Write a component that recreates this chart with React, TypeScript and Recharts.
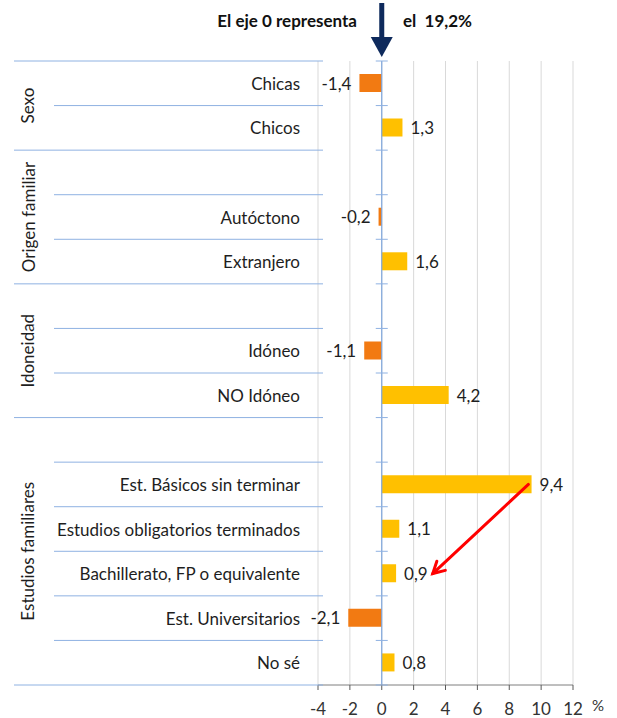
import React from 'react';
import { BarChart, Bar, XAxis, YAxis, CartesianGrid, Cell, LabelList, ReferenceLine } from 'recharts';

const categories = [
  'Chicas',
  'Chicos',
  ' ',
  'Autóctono',
  'Extranjero',
  '  ',
  'Idóneo',
  'NO Idóneo',
  '   ',
  'Est. Básicos sin terminar',
  'Estudios obligatorios terminados',
  'Bachillerato, FP o equivalente',
  'Est. Universitarios',
  'No sé',
];
const values: (number | null)[] = [-1.4, 1.3, null, -0.2, 1.6, null, -1.1, 4.2, null, 9.4, 1.1, 0.9, -2.1, 0.8];
const xTicks = [-4, -2, 0, 2, 4, 6, 8, 10, 12];
const groupNames = ['Sexo', 'Origen familiar', 'Idoneidad', 'Estudios familiares'];
const groupStarts = [0, 2, 5, 8];
const groupCounts = [2, 3, 3, 6];

const data = categories.map((name, i) => ({ name, value: values[i] }));

const W = 617;
const H = 718;
const M_TOP = 61;
const M_RIGHT = 44;
const Y_AXIS_W = 318;
const X_AXIS_H = 33;
const PLOT_LEFT = Y_AXIS_W;
const PLOT_RIGHT = W - M_RIGHT;
const PLOT_TOP = M_TOP;
const PLOT_BOTTOM = H - X_AXIS_H;
const BAND = (PLOT_BOTTOM - PLOT_TOP) / categories.length;
const X_MIN = xTicks[0];
const X_MAX = xTicks[xTicks.length - 1];
const xZero = PLOT_LEFT + ((0 - X_MIN) / (X_MAX - X_MIN)) * (PLOT_RIGHT - PLOT_LEFT);

const BLUE = '#8FB2E2';
const FONT = 'Lato, "Open Sans", sans-serif';
const TEXT = '#1e1e1e';
const NEG = '#F27A12';
const POS = '#FFC000';
const FS = 17;

const groupEnds = new Set(groupStarts.map((s, i) => s + groupCounts[i] - 1));

const fmt = (v: number) => v.toFixed(1).replace('.', ',');

const CatTick = (props: any) => {
  const { y, payload, index } = props;
  const i = payload && payload.index != null ? payload.index : index;
  const isEnd = groupEnds.has(i);
  const yb = y + BAND / 2;
  const yt = y - BAND / 2;
  return (
    <g>
      {i === 0 && <line x1={14} x2={PLOT_LEFT + 5} y1={yt} y2={yt} stroke={BLUE} strokeWidth={1} />}
      {i === 0 && <line x1={xZero - 6} x2={xZero + 6} y1={yt} y2={yt} stroke={BLUE} strokeWidth={1} />}
      <line x1={isEnd ? 14 : 54} x2={PLOT_LEFT + 5} y1={yb} y2={yb} stroke={BLUE} strokeWidth={1} />
      <line x1={xZero - 6} x2={xZero + 6} y1={yb} y2={yb} stroke={BLUE} strokeWidth={1} />
      <text
        x={PLOT_LEFT - 18}
        y={y}
        textAnchor="end"
        dominantBaseline="central"
        fontFamily={FONT}
        fontSize={FS}
        fill={TEXT}
      >
        {payload.value}
      </text>
    </g>
  );
};

const ValueLabel = (props: any) => {
  const vb = props.viewBox || {};
  const x = props.x != null ? Number(props.x) : vb.x;
  const y = props.y != null ? Number(props.y) : vb.y;
  const width = props.width != null ? Number(props.width) : vb.width;
  const height = props.height != null ? Number(props.height) : vb.height;
  const value = props.value;
  if (value == null || isNaN(Number(value))) return null;
  const v = Number(value);
  const left = Math.min(x, x + width);
  const right = Math.max(x, x + width);
  const cy = y + height / 2;
  return (
    <text
      x={v >= 0 ? right + 8 : left - 8}
      y={cy}
      textAnchor={v >= 0 ? 'start' : 'end'}
      dominantBaseline="central"
      fontFamily={FONT}
      fontSize={FS}
      fill={TEXT}
    >
      {fmt(v)}
    </text>
  );
};

const RedArrow = (p: any) => {
  const { x1, y1, x2, y2 } = p;
  if ([x1, y1, x2, y2].some((v) => v == null || isNaN(v))) return null;
  const ang = Math.atan2(y2 - y1, x2 - x1);
  const L = 13;
  const spread = 0.5;
  const ax = x2 - L * Math.cos(ang - spread);
  const ay = y2 - L * Math.sin(ang - spread);
  const bx = x2 - L * Math.cos(ang + spread);
  const by = y2 - L * Math.sin(ang + spread);
  return (
    <g>
      <line x1={x1} y1={y1} x2={x2} y2={y2} stroke="#FF0000" strokeWidth={3} strokeLinecap="round" />
      <polyline
        points={`${ax},${ay} ${x2},${y2} ${bx},${by}`}
        fill="none"
        stroke="#FF0000"
        strokeWidth={3}
        strokeLinecap="round"
        strokeLinejoin="miter"
      />
    </g>
  );
};

export default function App() {
  return (
    <div style={{ position: 'absolute', left: 0, top: 0, width: W, height: H, background: '#fff' }}>
      <BarChart
        width={W}
        height={H}
        data={data}
        layout="vertical"
        margin={{ top: M_TOP, right: M_RIGHT, bottom: 0, left: 0 }}
        barCategoryGap={0}
      >
        <CartesianGrid horizontal={false} vertical={true} stroke="#D9D9D9" />
        <XAxis
          type="number"
          domain={[X_MIN, X_MAX]}
          ticks={xTicks}
          interval={0}
          height={X_AXIS_H}
          axisLine={{ stroke: '#7F7F7F' }}
          tickLine={{ stroke: '#595959' }}
          tickSize={5}
          tickMargin={13}
          tick={{ fontFamily: FONT, fontSize: FS, fill: '#333' }}
        />
        <YAxis
          type="category"
          dataKey="name"
          width={Y_AXIS_W}
          interval={0}
          axisLine={false}
          tickLine={false}
          tick={<CatTick />}
        />
        <ReferenceLine x={0} stroke="#7EA6DC" strokeWidth={1.2} />
        <Bar dataKey="value" barSize={18} isAnimationActive={false}>
          {data.map((d, i) => (
            <Cell key={i} fill={d.value != null && d.value < 0 ? NEG : POS} />
          ))}
          <LabelList dataKey="value" content={<ValueLabel />} />
        </Bar>
        <ReferenceLine
          segment={[
            { x: 9.2, y: 'Est. Básicos sin terminar' },
            { x: 3.2, y: 'Bachillerato, FP o equivalente' },
          ]}
          ifOverflow="visible"
          shape={RedArrow}
        />
      </BarChart>
      <svg
        width={W}
        height={H}
        style={{ position: 'absolute', left: 0, top: 0, pointerEvents: 'none' }}
      >
        <text x={357} y={27} textAnchor="end" fontFamily={FONT} fontWeight="bold" fontSize={FS} fill="#111">
          El eje 0 representa
        </text>
        <text x={403} y={27} textAnchor="start" fontFamily={FONT} fontWeight="bold" fontSize={FS} fill="#111" style={{ whiteSpace: 'pre' }}>
          el  19,2%
        </text>
        <rect x={xZero - 2.5} y={3} width={5} height={36} fill="#0E2A5C" />
        <polygon
          points={`${xZero - 11},37 ${xZero + 11},37 ${xZero},57`}
          fill="#0E2A5C"
        />
        {groupNames.map((g, i) => {
          const cy = PLOT_TOP + BAND * (groupStarts[i] + groupCounts[i] / 2);
          return (
            <text
              key={g}
              x={28}
              y={cy}
              transform={`rotate(-90 28 ${cy})`}
              textAnchor="middle"
              dominantBaseline="central"
              fontFamily={FONT}
              fontSize={FS}
              fill={TEXT}
            >
              {g}
            </text>
          );
        })}
        <text x={592} y={711} fontFamily={FONT} fontSize={15} fill="#333">
          %
        </text>
      </svg>
    </div>
  );
}
